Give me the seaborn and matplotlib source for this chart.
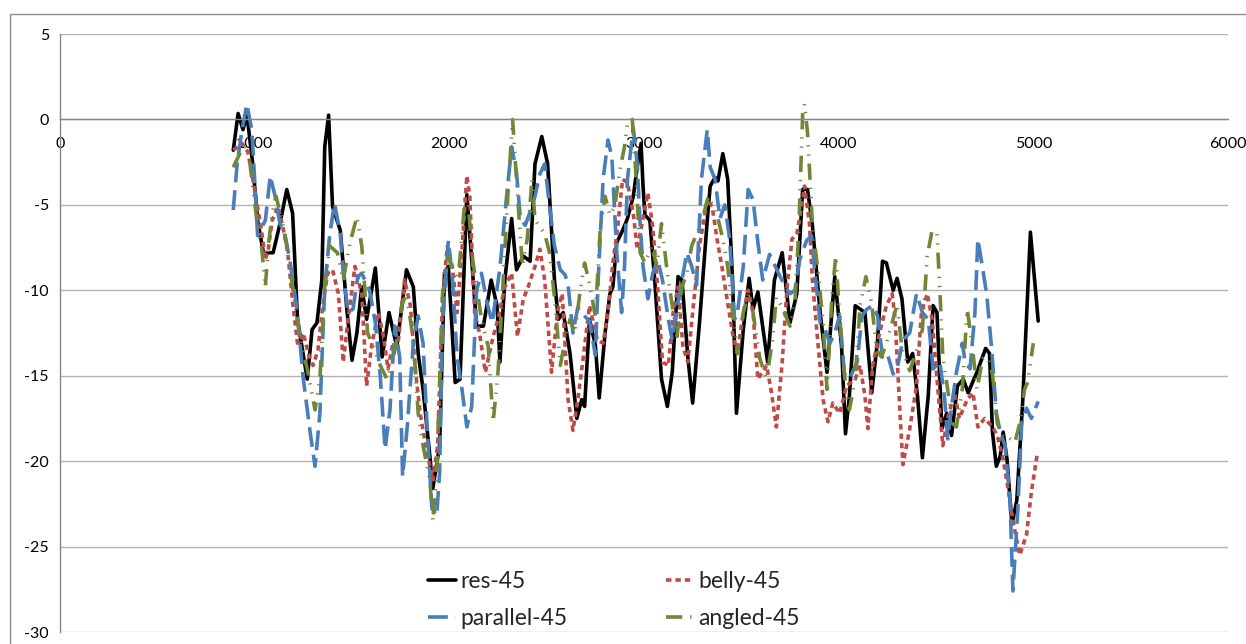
import matplotlib
matplotlib.use("Agg")
import matplotlib.pyplot as plt
import seaborn as sns
from matplotlib.patches import Rectangle

# ============================================
# DATA
# ============================================

res_x = [890, 915, 940, 960, 990, 1015, 1045, 1095, 1130, 1165, 1195, 1220, 1270, 1295,
         1320, 1345, 1360, 1380, 1400, 1440, 1475, 1500, 1525, 1550, 1575, 1620, 1655,
         1690, 1730, 1780, 1815, 1840, 1865, 1900, 1915, 1950, 1975, 1995, 2030, 2055,
         2090, 2120, 2140, 2175, 2215, 2245, 2260, 2285, 2320, 2345, 2380, 2415, 2440,
         2475, 2505, 2540, 2560, 2585, 2620, 2655, 2680, 2695, 2720, 2750, 2770, 2800,
         2825, 2840, 2860, 2890, 2915, 2945, 2965, 2985, 2995, 3005, 3030, 3055, 3090,
         3120, 3145, 3175, 3195, 3225, 3250, 3285, 3325, 3340, 3365, 3380, 3405, 3430,
         3455, 3475, 3510, 3540, 3560, 3585, 3635, 3670, 3710, 3750, 3785, 3815, 3840,
         3865, 3905, 3940, 3980, 4015, 4035, 4055, 4085, 4110, 4135, 4170, 4200, 4225,
         4245, 4280, 4300, 4325, 4355, 4380, 4405, 4430, 4460, 4485, 4505, 4530, 4555,
         4580, 4610, 4640, 4665, 4710, 4755, 4775, 4790, 4810, 4830, 4845, 4865, 4880,
         4890, 4915, 4945, 4985, 5025]
res_y = [-1.8, 0.35, -0.6, 0.3, -2.6, -5.9, -7.8, -7.8, -6.1, -4.1, -5.5, -11.7, -15.2, -12.3,
         -11.9, -9.4, -1.6, 0.25, -5.1, -6.5, -11.3, -14.1, -12.5, -9.8, -11.7, -8.7, -13.9,
         -11.3, -13.3, -8.8, -9.8, -13.7, -15.8, -19.7, -21.6, -19.1, -9.0, -8.6, -15.4, -15.2,
         -4.4, -9.0, -12.1, -12.1, -9.4, -10.9, -14.2, -9.4, -5.8, -8.8, -8.0, -8.3, -2.6,
         -1.0, -2.6, -9.4, -11.7, -11.3, -13.7, -17.5, -16.4, -16.8, -11.7, -13.2, -16.3, -12.5,
         -10.2, -9.8, -7.2, -6.5, -5.8, -4.5, -2.8, -1.4, -3.9, -5.6, -5.9, -9.4, -15.2,
         -16.8, -14.8, -9.2, -9.4, -13.9, -16.6, -11.9, -5.9, -3.9, -3.4, -3.6, -2.0, -3.5,
         -9.4, -17.2, -12.3, -9.3, -11.1, -10.1, -14.2, -9.4, -7.8, -11.9, -10.2, -4.1, -4.1,
         -6.2, -11.3, -14.8, -9.2, -13.3, -18.4, -16.2, -10.9, -11.1, -11.3, -16.0, -12.9, -8.3,
         -8.4, -10.0, -9.3, -10.5, -14.2, -13.7, -16.2, -19.8, -16.2, -10.9, -11.3, -18.1, -17.2,
         -18.5, -15.6, -15.2, -16.0, -14.8, -13.4, -13.7, -18.3, -20.3, -19.7, -18.3, -19.9, -22.2,
         -23.7, -22.3, -16.6, -6.6, -11.8]

belly_x = [890, 935, 965, 1000, 1035, 1055, 1070, 1090, 1120, 1145, 1170, 1195, 1220, 1250,
           1275, 1300, 1325, 1350, 1375, 1400, 1430, 1455, 1480, 1515, 1550, 1575, 1600, 1635,
           1660, 1685, 1710, 1735, 1770, 1800, 1825, 1850, 1885, 1915, 1940, 1965, 1990, 2015,
           2040, 2065, 2090, 2105, 2130, 2155, 2185, 2225, 2250, 2285, 2320, 2350, 2380, 2405,
           2440, 2465, 2490, 2525, 2555, 2580, 2595, 2610, 2635, 2660, 2685, 2720, 2760, 2790,
           2815, 2840, 2865, 2890, 2915, 2945, 2965, 2990, 3020, 3045, 3070, 3095, 3125, 3150,
           3175, 3200, 3225, 3250, 3285, 3325, 3350, 3375, 3400, 3425, 3455, 3480, 3510, 3535,
           3560, 3585, 3630, 3655, 3680, 3710, 3735, 3760, 3785, 3810, 3825, 3850, 3865, 3895,
           3920, 3945, 3970, 4005, 4040, 4085, 4110, 4135, 4150, 4175, 4210, 4245, 4275, 4290,
           4315, 4330, 4365, 4400, 4425, 4455, 4480, 4505, 4535, 4560, 4595, 4620, 4660, 4690,
           4715, 4750, 4790, 4815, 4845, 4870, 4895, 4930, 4965, 4990, 5020]
belly_y = [-1.8, -1.4, -1.9, -4.1, -6.5, -8.2, -7.6, -5.9, -5.1, -6.3, -7.8, -10.7, -13.1, -12.5,
           -13.7, -14.4, -13.5, -10.9, -9.0, -8.8, -10.2, -14.2, -11.7, -8.6, -10.2, -15.6, -13.3, -11.3,
           -12.6, -14.6, -13.1, -13.3, -9.4, -10.9, -14.6, -17.2, -19.5, -21.1, -19.1, -10.4, -7.4, -8.6,
           -11.3, -7.6, -3.3, -4.5, -11.3, -12.5, -14.8, -12.7, -11.7, -9.8, -9.0, -12.7, -10.5, -9.8,
           -8.6, -7.6, -9.4, -14.8, -11.3, -10.2, -13.3, -16.4, -18.2, -16.4, -14.2, -10.9, -12.9, -13.1,
           -11.3, -8.4, -6.3, -3.5, -3.7, -5.5, -7.6, -6.1, -4.3, -6.3, -9.8, -14.2, -14.4, -11.3,
           -9.8, -13.3, -14.2, -11.3, -7.4, -4.7, -5.1, -7.0, -8.6, -10.4, -12.5, -13.7, -11.3, -10.0,
           -11.3, -15.2, -14.4, -16.0, -18.0, -14.2, -9.8, -7.0, -6.7, -5.1, -3.9, -6.1, -9.4, -13.3,
           -16.4, -17.7, -16.6, -17.2, -15.6, -15.2, -14.4, -16.2, -18.1, -14.4, -12.5, -10.9, -10.2, -11.7,
           -17.2, -20.2, -18.1, -15.6, -11.3, -10.2, -11.7, -15.2, -19.1, -17.5, -16.0, -17.5, -16.4, -16.0,
           -18.0, -17.5, -18.0, -18.5, -19.9, -21.6, -23.5, -25.5, -24.3, -21.8, -19.6]

parallel_x = [890, 910, 935, 960, 985, 1000, 1015, 1055, 1080, 1105, 1130, 1155, 1180, 1215,
              1250, 1285, 1310, 1335, 1360, 1385, 1410, 1440, 1455, 1480, 1505, 1530, 1550, 1590,
              1620, 1645, 1670, 1695, 1720, 1745, 1760, 1785, 1815, 1840, 1865, 1885, 1910, 1935,
              1950, 1965, 1995, 2015, 2040, 2065, 2090, 2115, 2140, 2165, 2195, 2220, 2260, 2295,
              2320, 2345, 2365, 2390, 2415, 2440, 2465, 2490, 2515, 2540, 2570, 2595, 2610, 2635,
              2660, 2685, 2720, 2750, 2765, 2790, 2815, 2835, 2860, 2885, 2900, 2915, 2945, 2965,
              2980, 2995, 3020, 3045, 3070, 3095, 3125, 3145, 3170, 3195, 3220, 3245, 3270, 3295,
              3325, 3340, 3365, 3390, 3415, 3440, 3465, 3480, 3510, 3535, 3560, 3585, 3610, 3645,
              3700, 3725, 3750, 3775, 3800, 3835, 3860, 3880, 3905, 3930, 3955, 3980, 4005, 4030,
              4055, 4095, 4120, 4145, 4175, 4200, 4225, 4250, 4280, 4300, 4330, 4365, 4400, 4430,
              4460, 4485, 4520, 4545, 4560, 4580, 4605, 4635, 4650, 4675, 4700, 4715, 4735, 4760,
              4785, 4810, 4830, 4855, 4880, 4895, 4920, 4940, 4965, 4990, 5025]
parallel_y = [-5.3, -2.6, -0.6, 0.9, -0.6, -3.5, -6.8, -5.9, -3.3, -4.5, -6.1, -6.7, -8.2, -10.9,
              -15.2, -18.3, -20.3, -17.2, -9.8, -6.8, -4.9, -6.7, -9.0, -11.3, -11.1, -9.2, -9.0, -10.0,
              -11.9, -15.0, -19.3, -17.0, -12.1, -13.9, -20.9, -17.8, -13.1, -11.5, -13.1, -17.8, -22.7, -23.2,
              -20.7, -11.9, -7.1, -9.2, -13.9, -15.8, -18.0, -16.8, -10.0, -9.0, -10.8, -11.9, -8.7, -4.4,
              -1.6, -3.1, -5.8, -6.2, -5.4, -4.5, -3.2, -2.6, -5.1, -7.4, -8.8, -9.1, -9.7, -12.5,
              -11.0, -11.4, -11.8, -13.8, -9.3, -3.5, -1.2, -2.2, -7.8, -11.3, -8.6, -3.5, -0.5, -2.6,
              -6.1, -8.6, -10.5, -9.0, -8.2, -9.4, -11.7, -12.9, -11.0, -9.4, -7.8, -8.6, -9.7, -3.5,
              -0.6, -2.8, -3.5, -5.8, -5.0, -7.0, -11.7, -11.3, -8.6, -4.1, -4.7, -7.2, -9.4, -7.9,
              -9.2, -9.8, -10.2, -10.0, -8.2, -7.1, -6.8, -9.2, -11.9, -12.3, -13.1, -12.5, -11.5, -14.9,
              -15.2, -14.2, -11.5, -11.1, -10.9, -11.5, -13.9, -13.7, -14.9, -14.6, -12.9, -12.5, -10.2, -11.3,
              -11.7, -14.6, -14.2, -16.4, -18.7, -16.8, -14.8, -13.1, -14.2, -14.6, -11.3, -7.0, -8.4, -10.2,
              -13.3, -17.2, -18.3, -19.1, -22.2, -27.6, -22.9, -17.8, -16.9, -17.5, -16.5]

angled_x = [890, 915, 940, 965, 990, 1015, 1035, 1055, 1070, 1090, 1110, 1140, 1165, 1195,
            1235, 1270, 1310, 1335, 1360, 1385, 1425, 1455, 1490, 1525, 1550, 1565, 1580, 1610,
            1645, 1680, 1705, 1730, 1755, 1780, 1815, 1840, 1865, 1900, 1915, 1935, 1965, 1995,
            2020, 2045, 2080, 2095, 2120, 2165, 2200, 2225, 2250, 2275, 2300, 2325, 2345, 2375,
            2400, 2425, 2440, 2465, 2490, 2515, 2540, 2570, 2595, 2620, 2645, 2670, 2695, 2720,
            2750, 2775, 2800, 2825, 2850, 2875, 2900, 2915, 2940, 2955, 2980, 3005, 3040, 3065,
            3090, 3120, 3145, 3170, 3195, 3220, 3245, 3270, 3295, 3330, 3355, 3380, 3405, 3430,
            3455, 3480, 3510, 3535, 3560, 3595, 3630, 3660, 3680, 3710, 3750, 3775, 3795, 3815,
            3825, 3840, 3865, 3895, 3920, 3940, 3965, 3985, 4005, 4030, 4055, 4085, 4110, 4140,
            4170, 4195, 4220, 4245, 4275, 4300, 4325, 4365, 4405, 4430, 4455, 4480, 4505, 4520,
            4535, 4560, 4585, 4605, 4635, 4660, 4685, 4710, 4740, 4765, 4790, 4815, 4845, 4870,
            4905, 4930, 4955, 4970, 5000]
angled_y = [-2.8, -2.2, -1.6, -1.6, -3.9, -6.3, -7.4, -9.8, -7.4, -5.5, -4.5, -5.9, -7.4, -9.8,
            -12.9, -14.6, -17.0, -15.2, -9.8, -7.4, -7.8, -9.4, -7.2, -5.7, -7.4, -9.8, -12.5, -13.3,
            -14.4, -15.2, -14.4, -12.9, -10.9, -10.2, -12.9, -17.2, -19.1, -21.1, -23.5, -20.7, -10.2, -8.0,
            -9.0, -9.4, -4.7, -4.7, -8.2, -11.7, -13.3, -17.7, -14.8, -9.8, -4.5, 0.0, -3.5, -8.6,
            -7.0, -3.5, -5.9, -6.3, -6.7, -7.8, -10.4, -14.4, -12.9, -11.7, -12.5, -10.2, -8.4, -9.6,
            -11.5, -6.5, -4.5, -5.6, -5.1, -3.0, -1.6, -0.2, 0.0, -2.6, -7.8, -8.4, -7.4, -8.6,
            -6.1, -9.0, -10.9, -12.7, -9.8, -9.0, -7.4, -6.7, -6.1, -4.5, -5.1, -5.8, -7.0, -8.6,
            -11.3, -13.7, -11.3, -10.2, -11.3, -14.0, -15.2, -12.9, -10.4, -11.0, -12.1, -10.8, -6.5, 0.3,
            0.9, -0.8, -6.1, -9.0, -11.9, -15.8, -10.4, -8.0, -11.5, -15.0, -17.0, -15.2, -10.9, -9.2,
            -10.8, -13.5, -13.9, -13.1, -11.9, -10.8, -13.4, -14.7, -13.4, -12.3, -8.0, -6.5, -6.7, -10.0,
            -13.9, -15.8, -17.8, -18.0, -15.8, -11.1, -13.1, -15.8, -14.0, -13.9, -14.9, -17.8, -18.6, -18.6,
            -18.9, -17.8, -15.8, -15.4, -13.1]

x_ticks = [0, 1000, 2000, 3000, 4000, 5000, 6000]
y_ticks = [-30, -25, -20, -15, -10, -5, 0, 5]

# ============================================
# PLOT
# ============================================

sns.set_theme(style="white")
plt.rcParams["font.family"] = ["Lato", "DejaVu Sans"]

fig = plt.figure(figsize=(12.46, 6.44), dpi=100)
ax = fig.add_axes([60 / 1246, 12 / 644, 1168 / 1246, 598 / 644])

# outer chart border (Excel chart area)
fig.add_artist(Rectangle((10 / 1246, -0.1), 2, 1.078, transform=fig.transFigure,
                         fill=False, ec="#8c8c8c", lw=1))

lw = 2.6
joins = dict(solid_joinstyle="round", dash_joinstyle="round")
sns.lineplot(x=res_x, y=res_y, ax=ax, color="black", lw=lw, label="res-45", **joins)
sns.lineplot(x=belly_x, y=belly_y, ax=ax, color="#be4b48", lw=lw,
             linestyle=(0, (1.5, 1.1)), label="belly-45", **joins)
sns.lineplot(x=parallel_x, y=parallel_y, ax=ax, color="#4a7ebb", lw=lw,
             linestyle=(0, (5.5, 2.2)), label="parallel-45", **joins)
sns.lineplot(x=angled_x, y=angled_y, ax=ax, color="#6f8736", lw=lw,
             linestyle=(0, (4.5, 2.2, 0.35, 2.2, 0.35, 2.2)), label="angled-45", **joins)

ax.set_xlim(0, 6000)
ax.set_ylim(-30, 5)
ax.set_xticks(x_ticks)
ax.set_yticks(y_ticks)
ax.set_xticklabels([str(v) for v in x_ticks])
ax.set_yticklabels([str(v) for v in y_ticks])

# gridlines, axis crossing at y=0
ax.grid(axis="y", color="#b3b3b3", lw=1)
ax.grid(axis="x", visible=False)
ax.set_axisbelow(True)
for side in ["top", "right"]:
    ax.spines[side].set_visible(False)
ax.spines["bottom"].set_position(("data", 0))
ax.spines["bottom"].set_color("#868686")
ax.spines["left"].set_color("#868686")
ax.spines["bottom"].set_linewidth(1)
ax.spines["left"].set_linewidth(1)
ax.tick_params(axis="both", direction="out", length=4, width=1, color="#868686",
               labelsize=11.5, labelcolor="black")
ax.tick_params(axis="x", pad=9)
ax.tick_params(axis="y", pad=4)
ax.set_xlabel("")
ax.set_ylabel("")

handles, labels = ax.get_legend_handles_labels()
order = [0, 2, 1, 3]
ax.legend([handles[i] for i in order], [labels[i] for i in order],
          ncol=2, frameon=False, fontsize=16.5, loc="center",
          bbox_to_anchor=(614 / 1246, 44 / 644), bbox_transform=fig.transFigure,
          handlelength=1.2, handletextpad=0.2, columnspacing=4.3, labelspacing=0.7)

fig.savefig("out.png", dpi=100)
